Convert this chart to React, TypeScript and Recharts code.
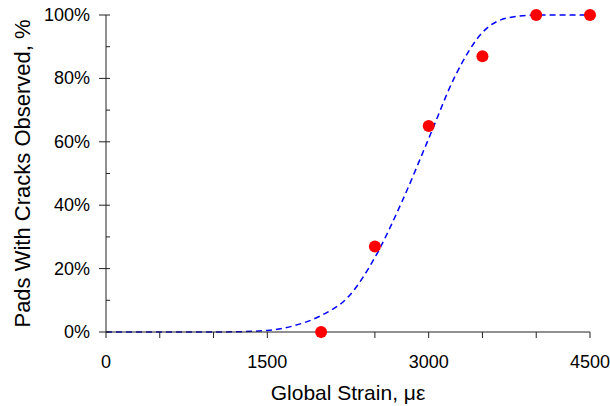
import { ComposedChart, Line, Scatter, XAxis, YAxis } from 'recharts';

// observed points
const strainObs = [2000, 2500, 3000, 3500, 4000, 4500];
const crackedObs = [0, 27, 65, 87, 100, 100];

// fitted curve
const strainFit = [0, 250, 500, 750, 1000, 1250, 1500, 1750, 2000, 2250, 2500, 2750, 3000, 3250, 3500, 3750, 4000, 4250, 4500];
const crackedFit = [0, 0, 0, 0, 0, 0.1, 0.5, 2, 5.2, 11, 23.5, 41, 61, 81, 94.5, 99.2, 100, 100, 100];

const xTicks = [0, 500, 1000, 1500, 2000, 2500, 3000, 3500, 4000, 4500];
const yTicks = [0, 10, 20, 30, 40, 50, 60, 70, 80, 90, 100];

const FONT = '"Liberation Sans", Arial, sans-serif';
const AXIS = '#222';
const TS = 7;
const TM = 9;

const obsData = strainObs.map((x, i) => ({ x, y: crackedObs[i] }));
const fitData = strainFit.map((x, i) => ({ x, y: crackedFit[i] }));

const YTick = (props: any) => {
  const { x, y, payload } = props;
  const ax = x + TS + TM;
  const major = payload.value % 20 === 0;
  return (
    <g>
      <line x1={major ? ax - 7 : ax} x2={ax + 4} y1={y} y2={y} stroke={AXIS} />
      {major && (
        <text x={x} y={y} textAnchor="end" dominantBaseline="central" fill="#000" fontSize={18} fontFamily={FONT}>
          {payload.value}%
        </text>
      )}
    </g>
  );
};

const YTitle = (props: any) => {
  const { viewBox } = props;
  const cx = viewBox.x + 22;
  const cy = viewBox.y + viewBox.height / 2;
  return (
    <text
      x={cx}
      y={cy}
      transform={`rotate(-90, ${cx}, ${cy})`}
      textAnchor="middle"
      dominantBaseline="central"
      fill="#000"
      fontSize={22}
      fontFamily={FONT}
    >
      Pads With Cracks Observed, %
    </text>
  );
};

const App = () => {
  return (
    <div style={{ position: 'absolute', left: 0, top: 0, background: '#fff' }}>
      <ComposedChart width={610} height={406} margin={{ top: 15, right: 20, left: 0, bottom: 0 }}>
        <XAxis
          type="number"
          dataKey="x"
          domain={[0, 4500]}
          ticks={xTicks}
          interval={0}
          height={74}
          stroke={AXIS}
          tickSize={6}
          tickMargin={17}
          tick={{ fill: '#000', fontSize: 18, fontFamily: FONT }}
          tickFormatter={(v: number) => (v % 1500 === 0 ? String(v) : '')}
          label={{ value: 'Global Strain, με', position: 'insideBottom', offset: 6, fill: '#000', fontSize: 21, fontFamily: FONT }}
        />
        <YAxis
          type="number"
          dataKey="y"
          domain={[0, 100]}
          ticks={yTicks}
          interval={0}
          width={106}
          stroke={AXIS}
          tickLine={false}
          tickSize={TS}
          tickMargin={TM}
          tick={<YTick />}
          label={<YTitle />}
        />
        <Line
          data={fitData}
          dataKey="y"
          type="monotone"
          stroke="#0000FF"
          strokeWidth={1.5}
          strokeDasharray="6 4"
          dot={false}
          activeDot={false}
          isAnimationActive={false}
        />
        <Scatter data={obsData} dataKey="y" fill="#FF0000" shape={(p: any) => <circle cx={p.cx} cy={p.cy} r={6} fill="#FF0000" />} isAnimationActive={false} />
      </ComposedChart>
    </div>
  );
};

export default App;
